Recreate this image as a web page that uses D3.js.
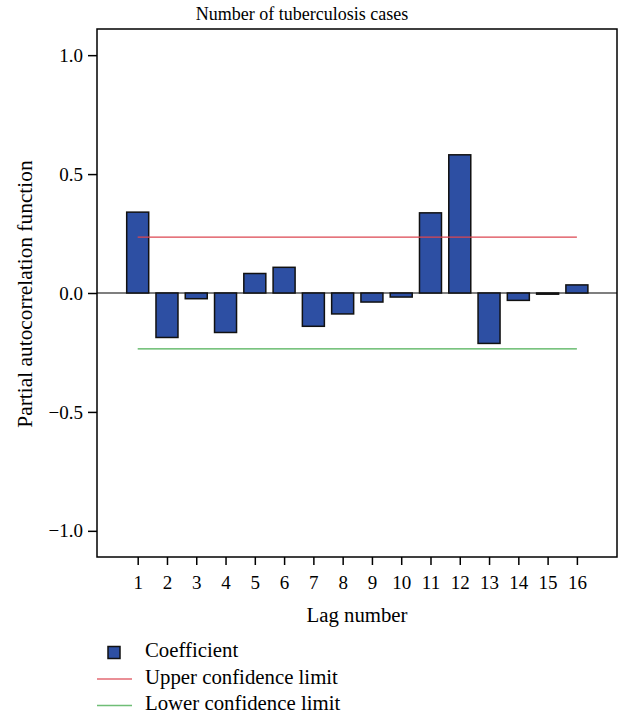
<!DOCTYPE html>
<html>
<head>
<meta charset="utf-8">
<script src="https://cdn.jsdelivr.net/npm/d3@7"></script>
<style>
  body { margin: 0; background: #fff; }
  svg { display: block; }
  svg text { font-family: "Liberation Serif", "DejaVu Serif", serif; fill: #000; }
  .axis path, .axis line { stroke: #000; stroke-width: 1.5; }
  .axis text { font-size: 19px; }
</style>
</head>
<body>
<svg id="chart" width="619" height="715"></svg>
<script>
// data
const lags = [1, 2, 3, 4, 5, 6, 7, 8, 9, 10, 11, 12, 13, 14, 15, 16]
const coefficients = [0.340, -0.187, -0.024, -0.166, 0.082, 0.108, -0.140, -0.088,
  -0.038, -0.017, 0.337, 0.581, -0.212, -0.031, -0.005, 0.034]
const upperLimit = 0.235
const lowerLimit = -0.235
const yTicks = [-1.0, -0.5, 0.0, 0.5, 1.0]
const legendItems = ['Coefficient', 'Upper confidence limit', 'Lower confidence limit']

const BAR_FILL = '#2d4fa3'
const UPPER_COLOR = '#dc4650'
const LOWER_COLOR = '#4caf55'

const plot = { left: 97, right: 617, top: 29, bottom: 557 }

const svg = d3.select('#chart')

const x = d3.scaleLinear().domain([-0.39, 17.37]).range([plot.left, plot.right])
const y = d3.scaleLinear().domain([-1.11, 1.11]).range([plot.bottom, plot.top])
const barWidth = 22

// frame
svg.append('rect')
  .attr('x', plot.left).attr('y', plot.top)
  .attr('width', plot.right - plot.left).attr('height', plot.bottom - plot.top)
  .attr('fill', 'none').attr('stroke', '#000').attr('stroke-width', 1.5)

// axes
svg.append('g').attr('class', 'axis')
  .attr('transform', `translate(${plot.left},0)`)
  .call(d3.axisLeft(y).tickValues(yTicks).tickFormat(d3.format('.1f')).tickSize(9).tickPadding(5))
  .call(g => g.select('.domain').remove())

svg.append('g').attr('class', 'axis')
  .attr('transform', `translate(0,${plot.bottom})`)
  .call(d3.axisBottom(x).tickValues(lags).tickFormat(d3.format('d')).tickSize(8).tickPadding(11))
  .call(g => g.select('.domain').remove())

// zero line
svg.append('line')
  .attr('x1', plot.left).attr('x2', plot.right)
  .attr('y1', y(0)).attr('y2', y(0))
  .attr('stroke', '#000').attr('stroke-width', 1.2)

// bars
svg.append('g').selectAll('rect')
  .data(lags)
  .enter().append('rect')
  .attr('x', (d) => x(d) - barWidth / 2)
  .attr('width', barWidth)
  .attr('y', (d, i) => y(Math.max(0, coefficients[i])))
  .attr('height', (d, i) => Math.abs(y(coefficients[i]) - y(0)))
  .attr('fill', BAR_FILL)
  .attr('stroke', '#111')
  .attr('stroke-width', 1.5)

// confidence limits
const limits = [[upperLimit, UPPER_COLOR], [lowerLimit, LOWER_COLOR]]
svg.append('g').selectAll('line')
  .data(limits)
  .enter().append('line')
  .attr('x1', x(lags[0])).attr('x2', x(lags[lags.length - 1]))
  .attr('y1', (d) => y(d[0])).attr('y2', (d) => y(d[0]))
  .attr('stroke', (d) => d[1]).attr('stroke-width', 1.3)

// titles
svg.append('text')
  .attr('x', 302).attr('y', 20)
  .attr('text-anchor', 'middle').attr('font-size', 18)
  .text('Number of tuberculosis cases')

svg.append('text')
  .attr('x', (plot.left + plot.right) / 2).attr('y', 622)
  .attr('text-anchor', 'middle').attr('font-size', 20.8)
  .text('Lag number')

svg.append('text')
  .attr('transform', `translate(32,294) rotate(-90)`)
  .attr('text-anchor', 'middle').attr('font-size', 21.4)
  .text('Partial autocorrelation function')

// legend
const legend = svg.append('g').attr('class', 'legend')
const rowY = (i) => 657 + i * 26.5
legend.selectAll('text')
  .data(legendItems)
  .enter().append('text')
  .attr('x', 145).attr('y', (d, i) => rowY(i))
  .attr('font-size', 20.8)
  .text((d) => d)

legend.append('rect')
  .attr('x', 108).attr('y', rowY(0) - 10.5)
  .attr('width', 12).attr('height', 12)
  .attr('fill', BAR_FILL).attr('stroke', '#111').attr('stroke-width', 1.5)

legend.selectAll('line')
  .data([UPPER_COLOR, LOWER_COLOR])
  .enter().append('line')
  .attr('x1', 97).attr('x2', 132)
  .attr('y1', (d, i) => rowY(i + 1) - 4.5).attr('y2', (d, i) => rowY(i + 1) - 4.5)
  .attr('stroke', (d) => d).attr('stroke-width', 1.3).attr('opacity', 0.8)
</script>
</body>
</html>
